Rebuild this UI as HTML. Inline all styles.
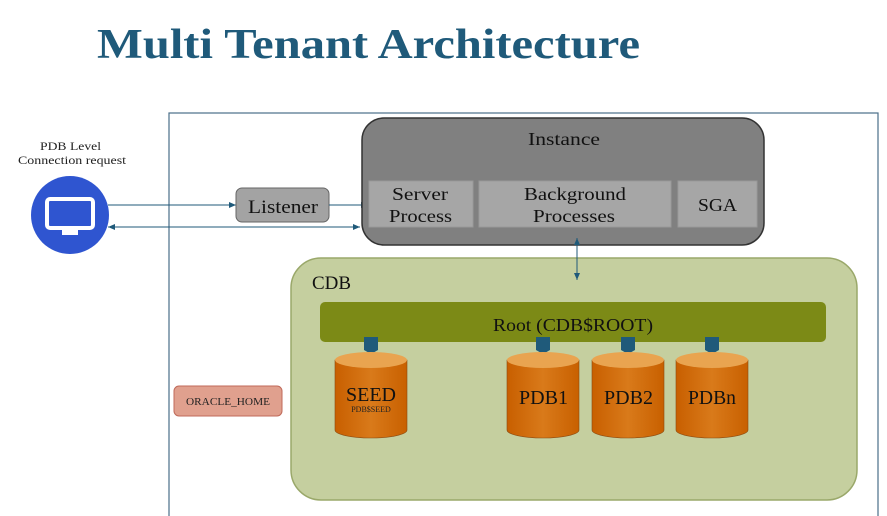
<!DOCTYPE html>
<html><head><meta charset="utf-8"><style>
body{margin:0;background:#fff;width:887px;height:516px;overflow:hidden}
svg{display:block}
text{font-family:"Liberation Serif","DejaVu Serif",serif}
</style></head><body>
<svg width="887" height="516" viewBox="0 0 887 516">
<defs>
<marker id="a" markerWidth="8" markerHeight="8" refX="7" refY="4" orient="auto-start-reverse" markerUnits="userSpaceOnUse"><path d="M0,1 L7,4 L0,7z" fill="#1f5a7a"/></marker>
<linearGradient id="cyl" x1="0" x2="1"><stop offset="0" stop-color="#c85f00"/><stop offset="0.5" stop-color="#d97a1a"/><stop offset="1" stop-color="#c86000"/></linearGradient>
</defs>
<text x="97" y="58" font-size="42" font-weight="bold" fill="#1f5a7a" textLength="543" lengthAdjust="spacingAndGlyphs">Multi Tenant Architecture</text>
<rect x="169" y="113" width="709" height="410" fill="none" stroke="#4a6f88" stroke-width="1.2"/>
<text x="40" y="150" font-size="12" fill="#222" textLength="61" lengthAdjust="spacingAndGlyphs">PDB Level</text>
<text x="18" y="164" font-size="12" fill="#222" textLength="108" lengthAdjust="spacingAndGlyphs">Connection request</text>
<circle cx="70" cy="215" r="39" fill="#2f55d0"/>
<rect x="47" y="199" width="46" height="29" rx="3" fill="#2f55d0" stroke="#fff" stroke-width="4"/>
<rect x="62" y="230" width="16" height="5" fill="#fff"/>
<line x1="108" y1="205" x2="236" y2="205" stroke="#1f5a7a" marker-end="url(#a)"/>
<line x1="108" y1="227" x2="360" y2="227" stroke="#1f5a7a" marker-start="url(#a)" marker-end="url(#a)"/>
<rect x="236" y="188" width="93" height="34" rx="6" fill="#a3a3a3" stroke="#666"/>
<text x="248" y="213" font-size="19" fill="#111" textLength="70" lengthAdjust="spacingAndGlyphs">Listener</text>
<line x1="329" y1="205" x2="368" y2="205" stroke="#1f5a7a" marker-end="url(#a)"/>
<rect x="362" y="118" width="402" height="127" rx="22" fill="#808080" stroke="#333" stroke-width="1.5"/>
<text x="528" y="145" font-size="18" fill="#111" textLength="72" lengthAdjust="spacingAndGlyphs">Instance</text>
<rect x="369" y="181" width="104" height="46" fill="#a6a6a6" stroke="#999"/>
<text x="392" y="200" font-size="18" fill="#111" textLength="56" lengthAdjust="spacingAndGlyphs">Server</text>
<text x="389" y="222" font-size="18" fill="#111" textLength="63" lengthAdjust="spacingAndGlyphs">Process</text>
<rect x="479" y="181" width="192" height="46" fill="#a6a6a6" stroke="#999"/>
<text x="524" y="200" font-size="18" fill="#111" textLength="102" lengthAdjust="spacingAndGlyphs">Background</text>
<text x="533" y="222" font-size="18" fill="#111" textLength="82" lengthAdjust="spacingAndGlyphs">Processes</text>
<rect x="678" y="181" width="79" height="46" fill="#a6a6a6" stroke="#999"/>
<text x="698" y="211" font-size="18" fill="#111" textLength="39" lengthAdjust="spacingAndGlyphs">SGA</text>
<rect x="291" y="258" width="566" height="242" rx="30" fill="#c5cf9f" stroke="#9aa86a" stroke-width="1.5"/>
<line x1="577" y1="238" x2="577" y2="280" stroke="#1f5a7a" marker-start="url(#a)" marker-end="url(#a)"/>
<text x="312" y="289" font-size="19" fill="#111" textLength="39" lengthAdjust="spacingAndGlyphs">CDB</text>
<rect x="320" y="302" width="506" height="40" rx="5" fill="#7c8a16"/>
<text x="493" y="331" font-size="18" fill="#111" textLength="160" lengthAdjust="spacingAndGlyphs">Root (CDB$ROOT)</text>
<rect x="174" y="386" width="108" height="30" rx="5" fill="#e0a08e" stroke="#c06a5a"/>
<text x="186" y="405" font-size="11" fill="#222" textLength="84" lengthAdjust="spacingAndGlyphs">ORACLE_HOME</text>
<g>
<path d="M364,337h14v13l-7,4l-7,-4z" fill="#1f5a7a"/>
<path d="M335,360v70a36,8 0 0 0 72,0v-70z" fill="url(#cyl)" stroke="#8a4a10" stroke-width="0.6"/>
<ellipse cx="371" cy="360" rx="36" ry="8" fill="#e9a450"/>
<text x="346" y="401" font-size="20" fill="#111" textLength="50" lengthAdjust="spacingAndGlyphs">SEED</text>
<text x="371" y="412" font-size="8" text-anchor="middle" fill="#222">PDB$SEED</text>
</g>
<g>
<path d="M536,337h14v13l-7,4l-7,-4z" fill="#1f5a7a"/>
<path d="M507,360v70a36,8 0 0 0 72,0v-70z" fill="url(#cyl)" stroke="#8a4a10" stroke-width="0.6"/>
<ellipse cx="543" cy="360" rx="36" ry="8" fill="#e9a450"/>
<text x="519" y="404" font-size="20" fill="#111" textLength="49" lengthAdjust="spacingAndGlyphs">PDB1</text>
</g>
<g>
<path d="M621,337h14v13l-7,4l-7,-4z" fill="#1f5a7a"/>
<path d="M592,360v70a36,8 0 0 0 72,0v-70z" fill="url(#cyl)" stroke="#8a4a10" stroke-width="0.6"/>
<ellipse cx="628" cy="360" rx="36" ry="8" fill="#e9a450"/>
<text x="604" y="404" font-size="20" fill="#111" textLength="49" lengthAdjust="spacingAndGlyphs">PDB2</text>
</g>
<g>
<path d="M705,337h14v13l-7,4l-7,-4z" fill="#1f5a7a"/>
<path d="M676,360v70a36,8 0 0 0 72,0v-70z" fill="url(#cyl)" stroke="#8a4a10" stroke-width="0.6"/>
<ellipse cx="712" cy="360" rx="36" ry="8" fill="#e9a450"/>
<text x="688" y="404" font-size="20" fill="#111" textLength="48" lengthAdjust="spacingAndGlyphs">PDBn</text>
</g>
</svg>
</body></html>
